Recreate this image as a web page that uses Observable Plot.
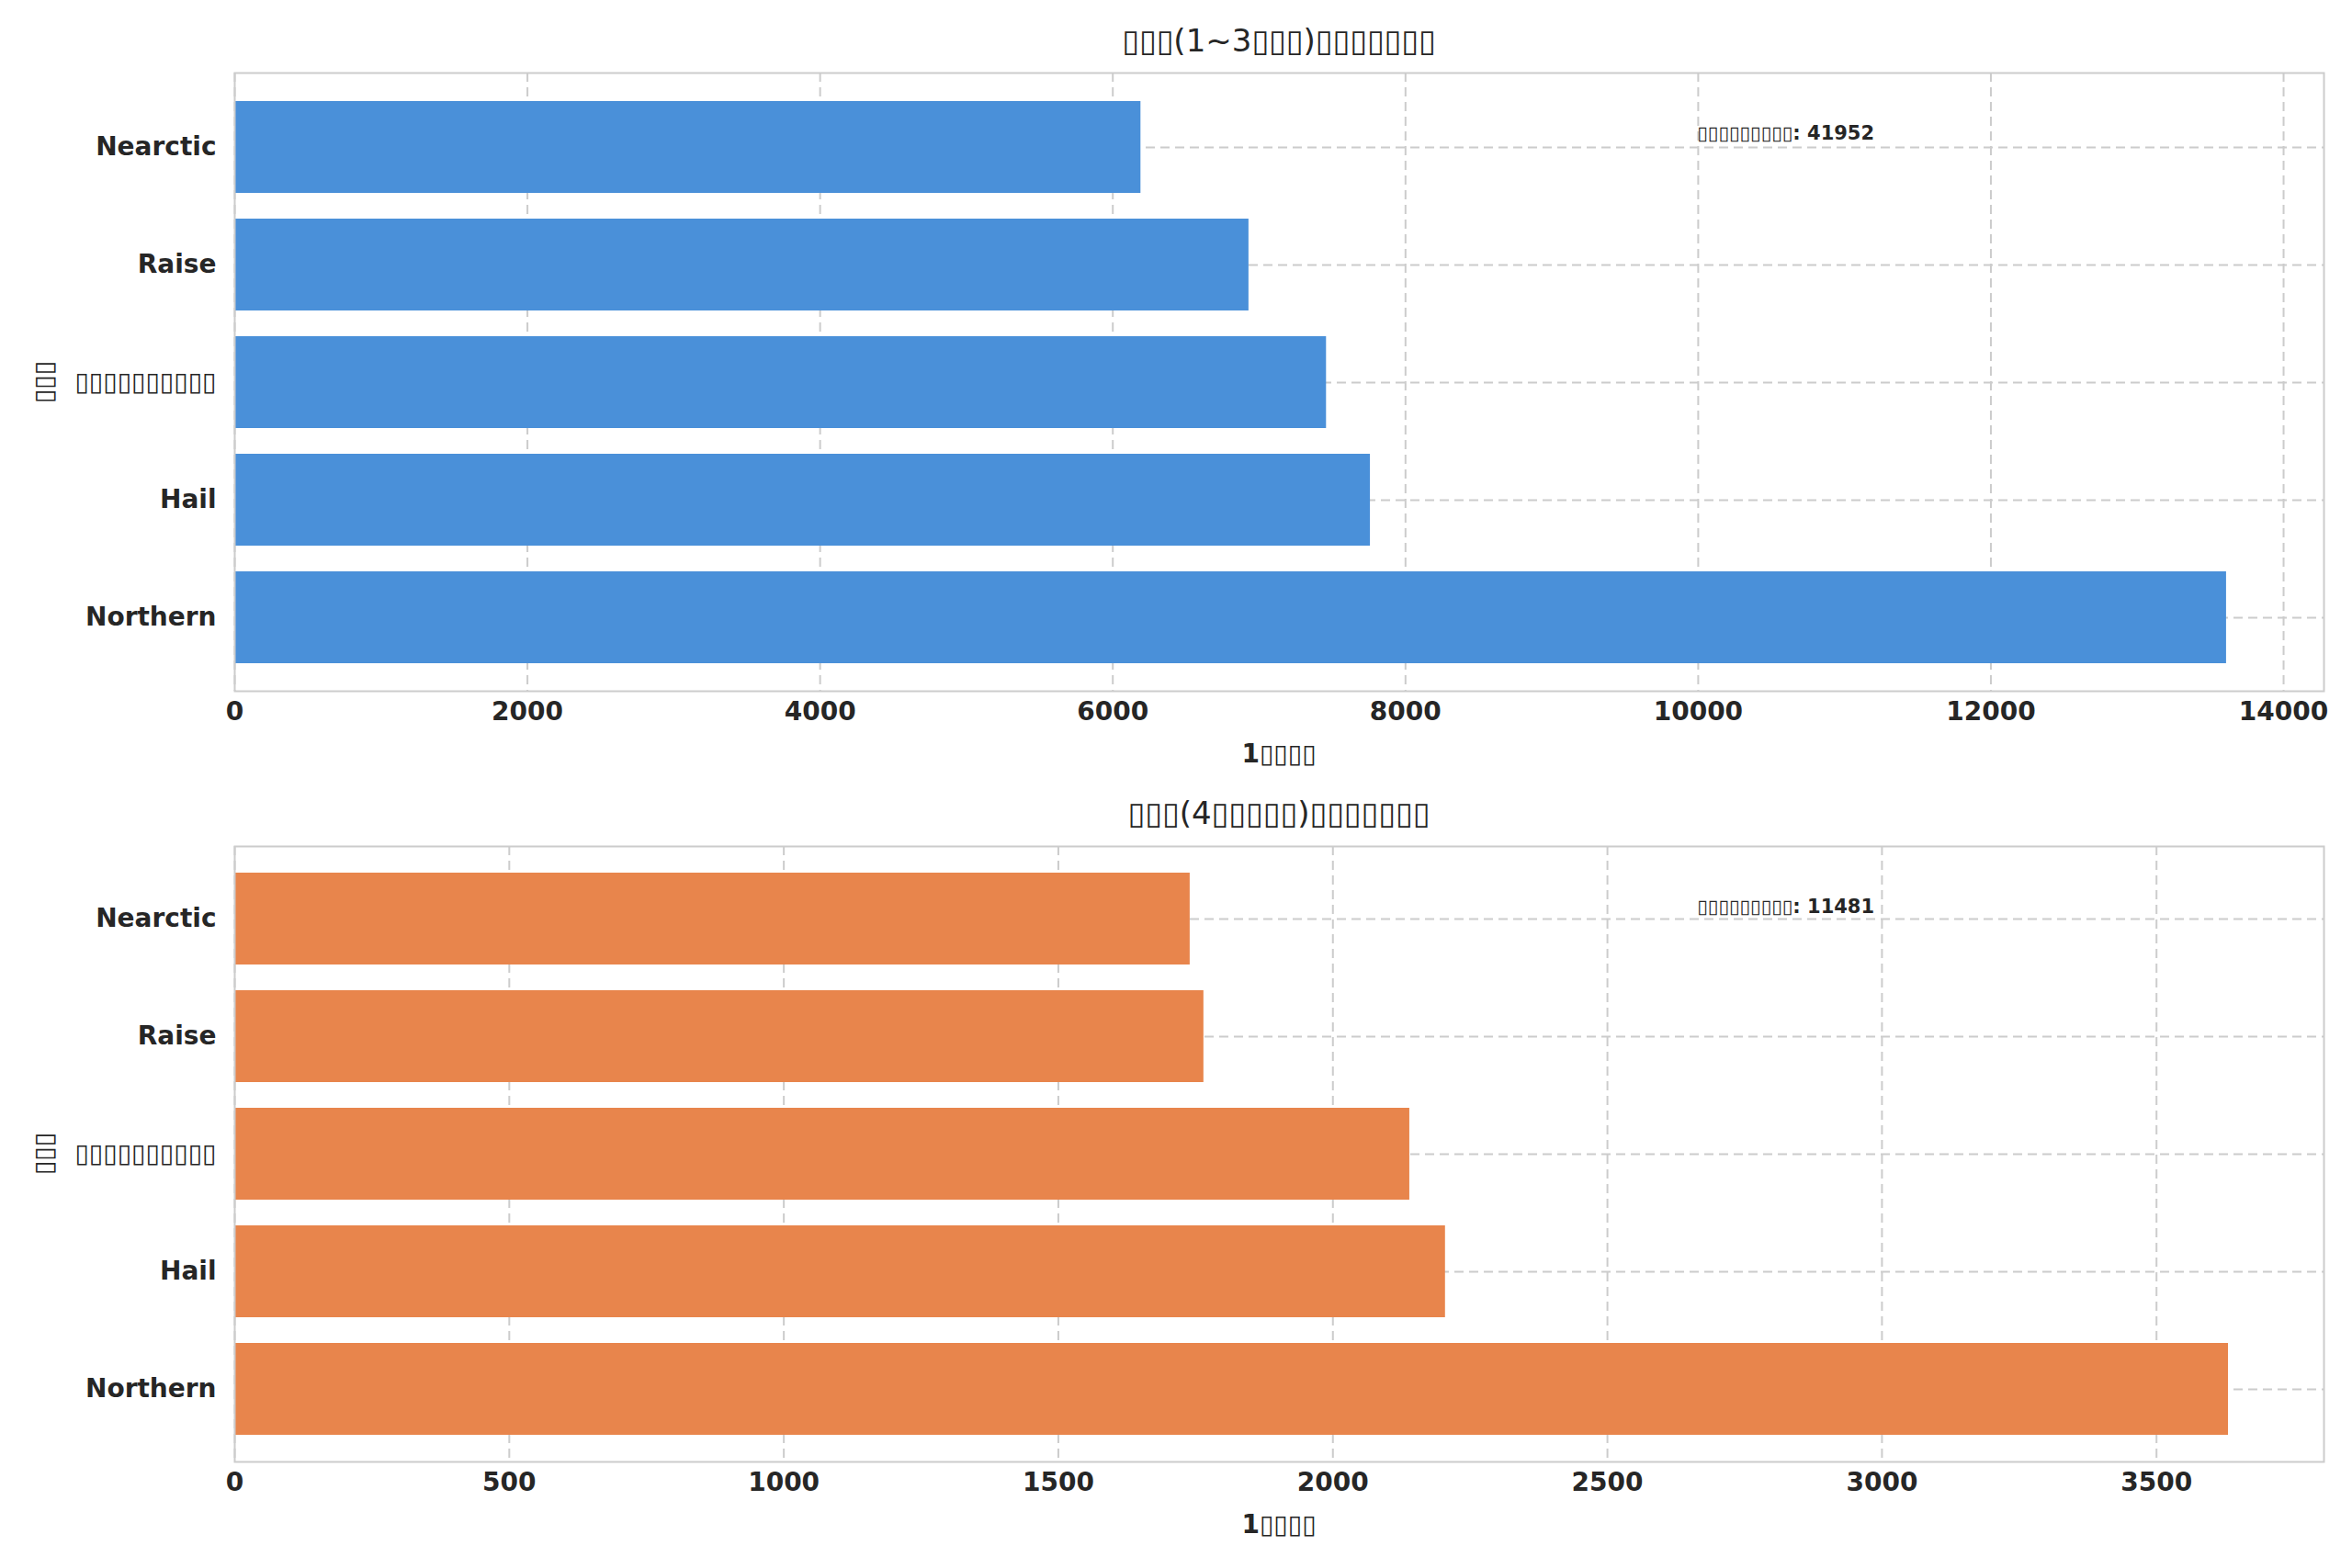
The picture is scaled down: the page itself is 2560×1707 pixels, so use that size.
<!DOCTYPE html>
<html><head><meta charset="utf-8">
<script src="https://cdn.jsdelivr.net/npm/d3@7"></script>
<script src="https://cdn.jsdelivr.net/npm/@observablehq/plot@0.6"></script>
<style>
body{margin:0;background:#fff;font-family:"DejaVu Sans",sans-serif;}
.wrap{position:relative;width:2560px;height:853px;}
.title{position:absolute;left:255px;width:2274px;text-align:center;font-size:34px;color:#262626;}
</style></head><body>
<div id="c1" class="wrap"></div>
<div id="c2" class="wrap"></div>
<script>
const categories = ["Nearctic","Raise","▯▯▯▯▯▯▯▯▯▯","Hail","Northern"];
const values1 = [6192, 6930, 7460, 7760, 13610];
const values2 = [1740, 1765, 2140, 2205, 3631];
const titles = ["▯▯▯(1~3▯▯▯)▯▯▯▯▯▯▯","▯▯▯(4▯▯▯▯▯)▯▯▯▯▯▯▯"];
const totalLabels = ["▯▯▯▯▯▯▯▯▯: 41952","▯▯▯▯▯▯▯▯▯: 11481"];
const xMax = [14276, 3805];
const xTicks = [[0,2000,4000,6000,8000,10000,12000,14000],[0,500,1000,1500,2000,2500,3000,3500]];
const colors = ["#4a90d9","#e8854c"];
const xLabel = "1▯▯▯▯";
const yLabel = "▯▯▯";

function make(id, vals, i, mt, mb, titleTop){
  const data = categories.map((c,k)=>({c, v: vals[k]}));
  const el = document.getElementById(id);
  const h = 853;
  const chart = Plot.plot({
    width:2560, height:h, marginLeft:255, marginRight:31, marginTop:mt, marginBottom:mb,
    style:{fontFamily:"DejaVu Sans", fontSize:"28px", color:"#262626", background:"white"},
    x:{domain:[0,xMax[i]], ticks:xTicks[i], tickFormat:d3.format("d"), tickSize:0, tickPadding:12, label:null},
    y:{domain:categories, padding:0.22, tickSize:0, tickPadding:20, label:null},
    marks:[
      Plot.gridX(xTicks[i], {stroke:"#cccccc", strokeOpacity:1, strokeDasharray:"10,6", strokeWidth:2}),
      Plot.gridY({stroke:"#cccccc", strokeOpacity:1, strokeDasharray:"10,6", strokeWidth:2}),
      Plot.barX(data, {y:"c", x:"v", fill:colors[i]}),
      Plot.frame({stroke:"#cccccc", strokeWidth:2}),
      Plot.text([totalLabels[i]], {frameAnchor:"top-left", dx:0.7*2274, dy:58, text:d=>d, textAnchor:"start", fontSize:21, fontWeight:"bold", fill:"#262626"})
    ]
  });
  chart.querySelectorAll('g[aria-label="x-axis tick label"] text, g[aria-label="y-axis tick label"] text').forEach(t=>t.setAttribute("font-weight","bold"));
  chart.style.position="absolute"; chart.style.left="0"; chart.style.top="0";
  el.appendChild(chart);
  const t = document.createElement("div"); t.className="title"; t.style.top=titleTop+"px"; t.textContent=titles[i]; el.appendChild(t);
  const xl = document.createElement("div");
  xl.style.cssText=`position:absolute;left:255px;width:2274px;text-align:center;top:${h-mb+52}px;font-size:28px;font-weight:bold;color:#262626`;
  xl.textContent=xLabel; el.appendChild(xl);
  const yl = document.createElement("div");
  const cy = mt + (h-mt-mb)/2;
  yl.style.cssText=`position:absolute;left:47px;top:${cy}px;transform:translate(-50%,-50%) rotate(-90deg);font-size:28px;font-weight:bold;color:#262626;white-space:nowrap`;
  yl.textContent=yLabel; el.appendChild(yl);
}
make("c1", values1, 0, 79, 101, 24);
make("c2", values2, 1, 68, 115, 12);
</script></body></html>
